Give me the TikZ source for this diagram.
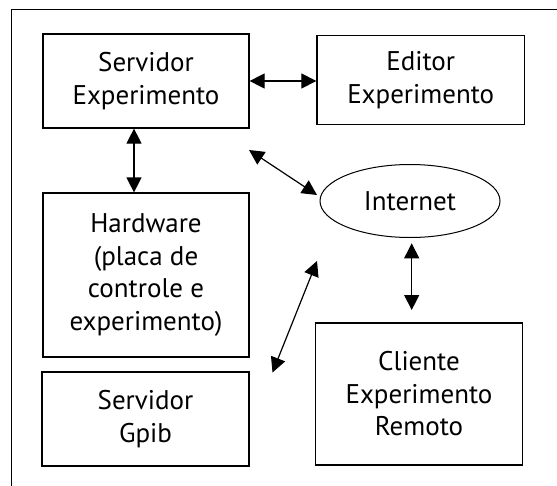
\documentclass[tikz,border=0pt]{standalone}
\usepackage{fontspec}
\setmainfont{PT Sans}
\usetikzlibrary{arrows.meta,shapes.geometric}
\tikzset{
  box/.style={draw, line width=1.2pt, inner sep=0pt, align=center, font=\fontsize{27}{32.5}\selectfont},
  oval/.style={draw, ellipse, line width=1pt, inner sep=0pt, font=\fontsize{27}{32.5}\selectfont},
  biarrow/.style={{Triangle[length=15pt,width=15pt]}-{Triangle[length=15pt,width=15pt]}, line width=1.2pt},
  frameline/.style={line width=1.2pt}
}
\begin{document}
\begin{tikzpicture}[x=1pt,y=-1pt]
\useasboundingbox (0,0) rectangle (557,485);
\draw[frameline] (11.7,486) -- (11.7,9.7) -- (558,9.7);
\node[box, minimum width=206pt, minimum height=94pt] (sexp) at (146,81) {Servidor\\Experimento};
\node[box, minimum width=207.5pt, minimum height=89pt] (edit) at (420.7,80) {Editor\\Experimento};
\node[box, minimum width=206pt, minimum height=164pt] (hw) at (146,275) {Hardware\\(placa de\\controle e\\experimento)};
\node[box, minimum width=207pt, minimum height=94pt] (gpib) at (145.5,419) {Servidor\\Gpib};
\node[box, minimum width=207pt, minimum height=142pt] (cli) at (419,394) {Cliente\\Experimento\\Remoto};
\node[oval, minimum width=180pt, minimum height=73pt] (inet) at (410,201) {Internet};
\coordinate (a1) at (249,150);
\coordinate (a2) at (317,195);
\coordinate (b1) at (411.7,243.3);
\coordinate (b2) at (411.7,310);
\coordinate (c1) at (317,261);
\coordinate (c2) at (272.5,372.5);
\draw[biarrow] (sexp.east) -- (sexp.east -| edit.west);
\draw[biarrow] ([xshift=-12pt]sexp.south) -- ([xshift=-12pt]hw.north);
\draw[biarrow] (a1) -- (a2);
\draw[biarrow] (b1) -- (b2);
\draw[biarrow] (c1) -- (c2);
\end{tikzpicture}
\end{document}
